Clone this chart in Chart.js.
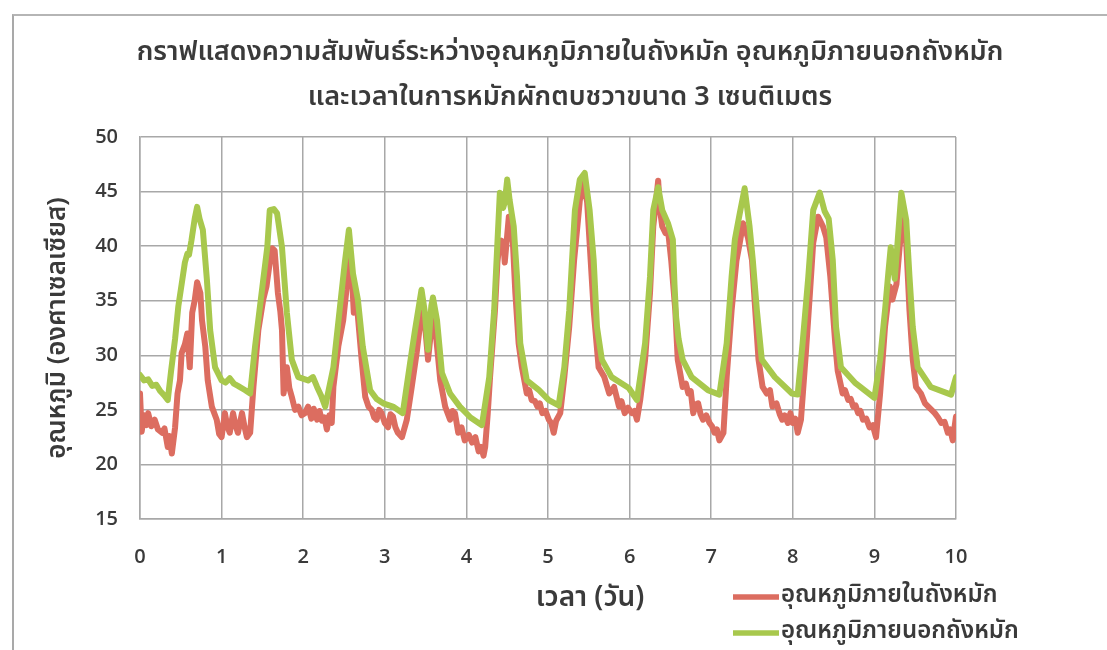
<!DOCTYPE html>
<html lang="th">
<head>
<meta charset="utf-8">
<title>อุณหภูมิภายในและภายนอกถังหมัก</title>
<script src="https://cdn.jsdelivr.net/npm/chart.js@4.4.1/dist/chart.umd.min.js"></script>
<style>
  html, body { margin: 0; padding: 0; background: #ffffff; overflow: hidden; }
  #wrap { position: relative; width: 1107px; height: 650px; }
  #frame { position: absolute; left: 12px; top: 14px; width: 1200px; height: 700px;
           border-left: 2px solid #a9a9a9; border-top: 2px solid #b5b5b5; box-sizing: border-box; }
  canvas { position: absolute; left: 0; top: 0; }
</style>
</head>
<body>
<div id="wrap">
  <div id="frame"></div>
  <canvas id="c" width="1107" height="650"></canvas>
</div>
<script>
// Chart text
const titleLines = [
  'กราฟแสดงความสัมพันธ์ระหว่างอุณหภูมิภายในถังหมัก อุณหภูมิภายนอกถังหมัก',
  'และเวลาในการหมักผักตบชวาขนาด 3 เซนติเมตร'
];
const xAxisTitle = 'เวลา (วัน)';
const yAxisTitle = 'อุณหภูมิ (องศาเซลเซียส)';
const seriesNames = ['อุณหภูมิภายในถังหมัก', 'อุณหภูมิภายนอกถังหมัก'];

// Axis ticks
const xTicks = [0, 1, 2, 3, 4, 5, 6, 7, 8, 9, 10];
const yTicks = [15, 20, 25, 30, 35, 40, 45, 50];

// Temperature inside the composting tank (°C) against time (days)
const insideDays = [
  0, 0.02, 0.05, 0.08, 0.1, 0.14, 0.18, 0.22, 0.27, 0.3, 0.34, 0.36, 0.39, 0.43, 0.46, 0.49,
  0.51, 0.55, 0.58, 0.61, 0.64, 0.67, 0.7, 0.74, 0.76, 0.8, 0.83, 0.88, 0.94, 0.97,
  1.0, 1.04, 1.07, 1.1, 1.14, 1.17, 1.2, 1.25, 1.28, 1.31, 1.35, 1.39, 1.45, 1.51, 1.55,
  1.59, 1.62, 1.65, 1.69, 1.72, 1.74, 1.76, 1.8, 1.83, 1.86, 1.9, 1.94, 1.98,
  2.02, 2.06, 2.1, 2.13, 2.17, 2.2, 2.23, 2.26, 2.29, 2.32, 2.35, 2.37, 2.43, 2.49, 2.53,
  2.56, 2.6, 2.62, 2.65, 2.72, 2.76, 2.8, 2.84, 2.87, 2.9, 2.93, 2.96,
  3.0, 3.04, 3.07, 3.1, 3.13, 3.16, 3.21, 3.27, 3.33, 3.39, 3.45, 3.49, 3.53, 3.58, 3.61,
  3.68, 3.74, 3.8, 3.83, 3.86, 3.9, 3.94, 3.98,
  4.03, 4.07, 4.11, 4.15, 4.18, 4.21, 4.23, 4.26, 4.29, 4.35, 4.38, 4.4, 4.43, 4.46, 4.47,
  4.5, 4.52, 4.55, 4.57, 4.6, 4.64, 4.68, 4.74, 4.77, 4.8, 4.84, 4.87, 4.9, 4.93, 4.97,
  5.01, 5.04, 5.07, 5.1, 5.15, 5.2, 5.26, 5.32, 5.36, 5.39, 5.44, 5.48, 5.51, 5.56, 5.62,
  5.69, 5.75, 5.81, 5.87, 5.9, 5.94, 5.98,
  6.03, 6.06, 6.09, 6.13, 6.19, 6.25, 6.29, 6.33, 6.35, 6.37, 6.4, 6.44, 6.47, 6.51, 6.56,
  6.59, 6.65, 6.69, 6.72, 6.75, 6.78, 6.81, 6.84, 6.87, 6.9, 6.94, 6.98,
  7.01, 7.04, 7.07, 7.1, 7.15, 7.19, 7.25, 7.31, 7.35, 7.39, 7.45, 7.5, 7.54, 7.58, 7.63,
  7.68, 7.72, 7.75, 7.8, 7.84, 7.87, 7.9, 7.94, 7.97,
  8.0, 8.03, 8.06, 8.1, 8.16, 8.21, 8.25, 8.31, 8.37, 8.41, 8.46, 8.52, 8.55, 8.61, 8.64,
  8.68, 8.71, 8.74, 8.77, 8.8, 8.83, 8.86, 8.9, 8.94, 8.98,
  9.02, 9.07, 9.13, 9.16, 9.19, 9.22, 9.27, 9.31, 9.35, 9.39, 9.43, 9.47, 9.51, 9.57, 9.62,
  9.66, 9.7, 9.74, 9.78, 9.82, 9.86, 9.9, 9.93, 9.96, 10.0
];
const insideTemp = [
  26.5, 23.0, 24.5, 23.6, 24.7, 23.5, 24.1, 23.2, 22.9, 23.3, 21.6, 22.6, 21.0, 23.4, 26.5, 27.7,
  30.2, 31.0, 32.0, 28.9, 33.9, 35.0, 36.7, 35.7, 33.2, 30.8, 27.7, 25.3, 24.1, 22.8,
  22.5, 24.7, 23.5, 22.9, 24.7, 23.6, 22.9, 24.7, 23.5, 22.5, 22.9, 27.1, 32.3, 35.1, 36.3,
  38.5, 39.8, 39.6, 35.7, 34.0, 32.3, 26.5, 28.9, 27.0, 26.2, 25.0, 25.3, 24.5,
  24.7, 25.3, 24.2, 25.1, 24.1, 24.9, 24.0, 24.3, 23.2, 24.5, 23.8, 27.1, 30.8, 33.2, 36.0,
  39.0, 36.9, 33.9, 35.3, 29.3, 26.2, 25.3, 25.0, 24.3, 24.1, 25.0, 24.7,
  23.8, 23.4, 24.6, 24.4, 23.4, 22.9, 22.5, 24.1, 27.1, 30.2, 33.9, 33.0, 29.6, 33.2, 33.2,
  27.7, 25.3, 24.1, 24.9, 24.7, 22.9, 23.4, 22.2,
  22.7, 22.0, 22.5, 21.2, 21.6, 20.8, 21.6, 24.5, 28.0, 34.1, 38.5, 39.9, 40.5, 39.6, 38.5,
  41.0, 42.7, 41.5, 40.3, 35.7, 31.1, 28.9, 26.5, 26.8, 25.9, 25.8, 25.3, 25.6, 24.7, 24.9,
  24.1, 23.8, 22.9, 24.0, 24.7, 28.0, 32.6, 38.7, 41.8, 44.2, 45.8, 44.0, 40.3, 34.1, 28.9,
  28.0, 26.5, 27.1, 25.3, 25.8, 24.7, 25.2,
  24.7, 24.9, 24.1, 25.9, 29.6, 35.7, 41.8, 44.5, 46.0, 43.5, 41.8, 41.2, 41.5, 38.7, 34.1,
  29.6, 27.1, 27.4, 26.5, 26.7, 24.7, 25.5, 25.6, 24.6, 24.1, 24.5, 23.8,
  23.5, 22.9, 23.2, 22.2, 22.9, 28.0, 34.1, 38.7, 40.3, 42.1, 40.8, 38.7, 34.1, 29.6, 27.1,
  26.5, 26.8, 25.3, 25.6, 24.6, 24.1, 24.5, 23.8, 24.7,
  23.8, 24.2, 22.9, 24.1, 30.2, 35.7, 40.3, 42.7, 41.8, 40.8, 37.2, 31.1, 28.6, 26.5, 26.8,
  25.9, 26.0, 25.3, 25.4, 24.7, 24.9, 24.1, 24.2, 23.4, 23.6,
  22.5, 26.5, 32.6, 34.5, 36.3, 35.1, 36.5, 40.0, 42.4, 40.3, 34.1, 29.6, 27.1, 26.5, 25.6,
  25.3, 25.0, 24.7, 24.3, 23.8, 23.9, 22.9, 23.2, 22.2, 24.4
];

// Temperature outside the composting tank (°C) against time (days)
const outsideDays = [
  0, 0.05, 0.1, 0.15, 0.2, 0.25, 0.3, 0.34, 0.38, 0.43, 0.47, 0.51, 0.55, 0.58, 0.6, 0.63,
  0.67, 0.7, 0.73, 0.77, 0.82, 0.86, 0.92,
  1.0, 1.05, 1.1, 1.15, 1.2, 1.29, 1.35, 1.41, 1.5, 1.56, 1.59, 1.64, 1.68, 1.74, 1.8, 1.86, 1.94,
  2.06, 2.12, 2.17, 2.22, 2.27, 2.37, 2.45, 2.51, 2.56, 2.61, 2.67, 2.73, 2.82, 2.9, 2.98,
  3.1, 3.22, 3.31, 3.37, 3.45, 3.49, 3.53, 3.57, 3.59, 3.64, 3.7, 3.8, 3.92,
  4.05, 4.19, 4.28, 4.34, 4.38, 4.41, 4.45, 4.47, 4.5, 4.53, 4.58, 4.62, 4.66, 4.74, 4.89,
  5.01, 5.13, 5.2, 5.26, 5.29, 5.33, 5.39, 5.45, 5.51, 5.56, 5.6, 5.66, 5.78, 5.99,
  6.09, 6.19, 6.25, 6.29, 6.35, 6.4, 6.47, 6.53, 6.55, 6.57, 6.6, 6.65, 6.76, 6.96,
  7.1, 7.19, 7.25, 7.29, 7.35, 7.41, 7.47, 7.51, 7.56, 7.62, 7.78, 7.99,
  8.06, 8.12, 8.19, 8.25, 8.33, 8.39, 8.44, 8.49, 8.53, 8.59, 8.76,
  9.0, 9.07, 9.13, 9.17, 9.2, 9.25, 9.33, 9.39, 9.43, 9.47, 9.53, 9.69, 9.94, 10.0
];
const outsideTemp = [
  28.2, 27.7, 27.8, 27.2, 27.3, 26.7, 26.3, 25.9, 28.5, 31.5, 34.5, 36.5, 38.5, 39.3, 39.2, 40.5,
  42.5, 43.6, 42.5, 41.5, 36.9, 32.3, 28.9,
  27.7, 27.5, 27.9, 27.4, 27.2, 26.8, 26.5, 30.8, 36.3, 39.9, 43.3, 43.4, 43.0, 39.9, 33.9, 29.6, 28.0,
  27.7, 28.0, 27.1, 26.3, 25.3, 28.9, 34.4, 38.5, 41.5, 37.5, 35.1, 30.8, 26.8, 26.0, 25.6,
  25.3, 24.7, 29.3, 32.3, 36.0, 34.0, 30.5, 34.5, 35.3, 33.2, 28.4, 26.5, 25.3,
  24.3, 23.6, 28.0, 34.1, 40.3, 44.9, 43.5, 44.0, 46.1, 44.2, 41.8, 37.2, 31.1, 27.7, 26.8,
  25.9, 25.4, 28.9, 34.1, 38.1, 43.3, 46.1, 46.7, 43.3, 38.7, 32.6, 29.6, 28.0, 27.0,
  25.9, 31.1, 37.2, 43.3, 45.4, 43.3, 42.1, 40.6, 36.5, 33.5, 31.5, 29.6, 28.0, 26.8,
  26.4, 31.1, 37.2, 40.6, 43.0, 45.3, 41.8, 38.7, 34.1, 29.6, 28.0, 26.5,
  26.4, 31.1, 37.2, 43.3, 44.9, 43.2, 42.5, 38.7, 32.6, 28.9, 27.5,
  26.1, 29.6, 34.1, 37.5, 39.9, 37.0, 44.9, 42.4, 37.2, 32.6, 28.9, 27.1, 26.4, 28.0
];

const insideColor = '#dc6d60';
const outsideColor = '#a8c84d';
const textColor = '#3a3a3a';
const thaiFont = '"Noto Sans Thai", "Tahoma", "DejaVu Sans", sans-serif';
const tickFont = '"Open Sans", "DejaVu Sans", sans-serif';

function toPoints(xs, ys) {
  return xs.map((x, i) => ({ x: x, y: ys[i] }));
}

// Title, axis titles and a two-row legend drawn around the plot area
const decorations = {
  id: 'decorations',
  afterDraw(chart) {
    const ctx = chart.ctx;
    const area = chart.chartArea;
    ctx.save();
    ctx.fillStyle = textColor;
    ctx.textAlign = 'center';
    ctx.textBaseline = 'middle';
    ctx.font = '600 27px ' + thaiFont;
    ctx.fillText(titleLines[0], 570, 55);
    ctx.fillText(titleLines[1], 570, 100);

    ctx.font = '600 28px ' + thaiFont;
    ctx.fillText(xAxisTitle, 590, 600);

    ctx.font = '600 26px ' + thaiFont;
    ctx.save();
    ctx.translate(60, (area.top + area.bottom) / 2);
    ctx.rotate(-Math.PI / 2);
    ctx.fillText(yAxisTitle, 0, 0);
    ctx.restore();

    // legend
    const ds = chart.data.datasets;
    ctx.textAlign = 'left';
    ctx.font = '600 24px ' + thaiFont;
    ds.forEach((d, i) => {
      const y = 597 + i * 36;
      ctx.strokeStyle = d.borderColor;
      ctx.lineWidth = 5.5;
      ctx.beginPath();
      ctx.moveTo(733, y);
      ctx.lineTo(779, y);
      ctx.stroke();
      ctx.fillStyle = textColor;
      ctx.fillText(d.label, 781, y);
    });
    ctx.restore();
  }
};

new Chart(document.getElementById('c'), {
  type: 'line',
  data: {
    datasets: [
      {
        label: seriesNames[0],
        data: toPoints(insideDays, insideTemp),
        borderColor: insideColor,
        backgroundColor: insideColor,
        borderWidth: 6,
        borderJoinStyle: 'round',
        borderCapStyle: 'round',
        pointRadius: 0,
        tension: 0,
        order: 1
      },
      {
        label: seriesNames[1],
        data: toPoints(outsideDays, outsideTemp),
        borderColor: outsideColor,
        backgroundColor: outsideColor,
        borderWidth: 6,
        borderJoinStyle: 'round',
        borderCapStyle: 'round',
        pointRadius: 0,
        tension: 0,
        order: 0
      }
    ]
  },
  options: {
    responsive: false,
    animation: false,
    layout: { padding: { top: 137, left: 0, right: 151, bottom: 0 } },
    plugins: {
      legend: { display: false },
      title: { display: false },
      tooltip: { enabled: false }
    },
    scales: {
      x: {
        type: 'linear',
        min: xTicks[0],
        max: xTicks[xTicks.length - 1],
        afterBuildTicks(scale) { scale.ticks = xTicks.map(v => ({ value: v })); },
        afterFit(scale) { scale.height = 131; },
        grid: { color: '#a8a8a8', lineWidth: 1.5, drawTicks: false },
        border: { color: '#a8a8a8', width: 1.5 },
        ticks: { color: textColor, font: { family: tickFont, size: 20, weight: '600' }, padding: 26 }
      },
      y: {
        type: 'linear',
        min: yTicks[0],
        max: yTicks[yTicks.length - 1],
        afterBuildTicks(scale) { scale.ticks = yTicks.map(v => ({ value: v })); },
        afterFit(scale) { scale.width = 140; },
        grid: { color: '#a8a8a8', lineWidth: 1.5, drawTicks: false },
        border: { color: '#a8a8a8', width: 1.5 },
        ticks: { color: textColor, font: { family: tickFont, size: 20, weight: '600' }, padding: 22 }
      }
    }
  },
  plugins: [decorations]
});
</script>
</body>
</html>
